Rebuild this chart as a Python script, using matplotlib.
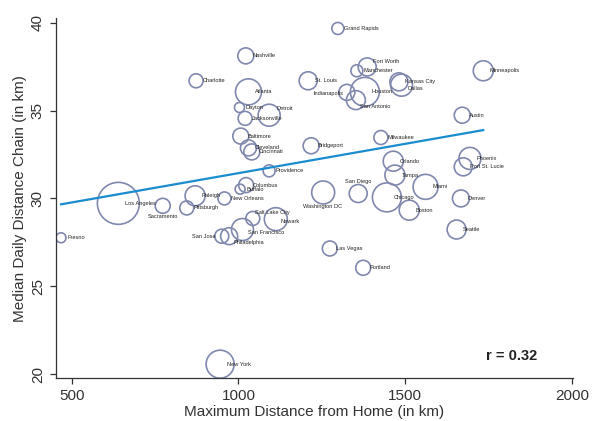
import numpy as np
import matplotlib
matplotlib.use('Agg')
import matplotlib.pyplot as plt

plt.rcParams['font.family'] = ['Liberation Sans', 'DejaVu Sans']

# city data
cities = ['Fresno', 'Los Angeles', 'Sacramento', 'Pittsburgh', 'Raleigh',
          'Charlotte', 'San Jose', 'New York', 'New Orleans', 'Philadelphia',
          'Dayton', 'Buffalo', 'Baltimore', 'San Francisco', 'Jacksonville',
          'Nashville', 'Columbus', 'Atlanta', 'Cleveland', 'Cincinnati',
          'Salt Lake City', 'Detroit', 'Providence', 'Newark', 'St. Louis',
          'Bridgeport', 'Washington DC', 'Las Vegas', 'Grand Rapids',
          'Indianapolis', 'San Antonio', 'Manchester', 'San Diego', 'Portland',
          'Houston', 'Fort Worth', 'Milwaukee', 'Chicago', 'Orlando', 'Tampa',
          'Kansas City', 'Dallas', 'Boston', 'Miami', 'Seattle', 'Denver',
          'Austin', 'Port St. Lucie', 'Phoenix', 'Minneapolis']
max_dist = [468, 640, 773, 845, 870, 873, 950, 945, 958, 972,
            1003, 1005, 1007, 1012, 1020, 1022, 1023, 1030, 1030, 1040,
            1043, 1092, 1092, 1112, 1209, 1218, 1254, 1274, 1298, 1325,
            1352, 1355, 1359, 1374, 1379, 1386, 1427, 1445, 1464, 1469,
            1481, 1489, 1512, 1561, 1654, 1667, 1671, 1674, 1694, 1734]
median_chain = [27.76, 29.72, 29.58, 29.46, 30.15, 36.70, 27.85, 20.56, 30.00, 27.85,
                35.18, 30.53, 33.55, 28.23, 34.56, 38.12, 30.76, 36.07, 32.88, 32.65,
                28.86, 34.74, 31.57, 28.82, 36.70, 33.00, 30.34, 27.15, 39.68, 36.04,
                35.60, 37.27, 30.28, 26.05, 36.07, 37.49, 33.47, 30.06, 32.12, 31.33,
                36.64, 36.45, 29.33, 30.66, 28.23, 30.00, 34.74, 31.80, 32.28, 37.27]
weight = [25, 441, 56, 49, 100, 49, 49, 196, 42, 72,
          25, 25, 64, 121, 49, 64, 56, 169, 64, 64,
          49, 121, 36, 132, 81, 64, 132, 56, 36, 64,
          90, 36, 81, 56, 210, 81, 49, 210, 100, 100,
          81, 121, 100, 156, 90, 72, 64, 81, 121, 100]

fit_intercept = 28.10
fit_slope = 0.00334
r_value = 0.32

# label placement (offset in px, alignment) for labels not at 3 o'clock
label_pos = {
    'Detroit': (7.5, 7, 'left'),
    'Salt Lake City': (2.5, 6, 'left'),
    'Philadelphia': (4, -6.5, 'left'),
    'San Antonio': (4, -6.5, 'left'),
    'Fort Worth': (5.5, 5, 'left'),
    'Dallas': (5.5, -3, 'left'),
    'Newark': (4.5, -2.5, 'left'),
    'San Francisco': (5.5, -3, 'left'),
    'San Jose': (-6.5, 0, 'right'),
    'Indianapolis': (-3.5, -1.5, 'right'),
    'Sacramento': (0, -11, 'center'),
    'Washington DC': (-1, -14.5, 'center'),
    'San Diego': (0, 12.5, 'center'),
}

fig = plt.figure(figsize=(5.97, 4.21), dpi=100)
ax = fig.add_axes([0.0938, 0.102, 0.866, 0.855])

circle_col = '#8088ae'
ax.scatter(max_dist, median_chain, s=np.array(weight) * 2.07,
           facecolors='none', edgecolors=circle_col, linewidths=1.2, zorder=2)

xs = np.array([min(max_dist), max(max_dist)])
ax.plot(xs, fit_intercept + fit_slope * xs, color='#1a8ccf', lw=1.6, zorder=3)

px = 0.72
for name, x, y in zip(cities, max_dist, median_chain):
    dx, dy, ha = label_pos.get(name, (6.5, 0, 'left'))
    ax.annotate(name, (x, y), xytext=(dx * px, dy * px), textcoords='offset points',
                ha=ha, va='center', fontsize=4.1, color='#222222', zorder=4)

ax.text(0.93, 0.06, 'r = %.2f' % r_value, transform=ax.transAxes,
        ha='right', va='center', fontsize=10.5, fontweight='bold', color='#222222')

ax.set_xlim(453, 2003)
ax.set_ylim(19.77, 40.27)
ax.set_xticks([500, 1000, 1500, 2000])
ax.set_yticks([20, 25, 30, 35, 40])
for lab in ax.get_yticklabels():
    lab.set_rotation(90)
    lab.set_va('center')
ax.tick_params(labelsize=11, length=4.5, width=0.9, colors='#333333')
ax.spines['top'].set_visible(False)
ax.spines['right'].set_visible(False)
for sp in ['left', 'bottom']:
    ax.spines[sp].set_color('#333333')
    ax.spines[sp].set_linewidth(0.9)

ax.set_xlabel('Maximum Distance from Home (in km)', fontsize=11, color='#333333', labelpad=1)
ax.set_ylabel('Median Daily Distance Chain (in km)', fontsize=11, color='#333333', labelpad=3)

fig.savefig('out.png', dpi=100)
